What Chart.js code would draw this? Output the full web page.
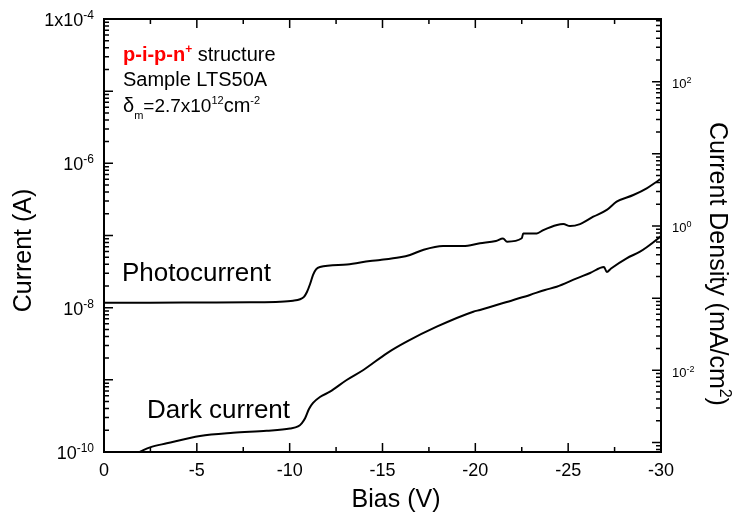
<!DOCTYPE html>
<html lang="en">
<head>
<meta charset="UTF-8">
<title>Photocurrent and dark current vs bias</title>
<style>
    html, body { margin: 0; padding: 0; background: #fff; }
    #wrap { width: 734px; height: 516px; position: relative; }
</style>
</head>
<body>
<div id="wrap"><canvas id="ivChart"></canvas></div>

<script src="https://cdn.jsdelivr.net/npm/chart.js"></script>
<script>
// values: bias (V) and current (A)
const photoBias = [0, -2.48, -5.17, -7.86, -9.48, -10.18, -10.56, -10.77, -10.93, -11.10,
    -11.26, -11.42, -11.63, -13.09, -14.33, -14.87, -15.94, -16.48, -17.18, -18.26,
    -19.34, -20.25, -21.11, -21.49, -21.71, -22.50, -22.58, -23.31, -23.66, -24.40,
    -24.74, -25.10, -25.64, -26.35, -27.08, -27.61, -28.51, -29.23, -29.86, -30];
const photoCurrent = [1.17e-8, 1.17e-8, 1.18e-8, 1.19e-8, 1.21e-8, 1.25e-8, 1.31e-8, 1.41e-8, 1.65e-8, 2.13e-8,
    2.84e-8, 3.38e-8, 3.66e-8, 3.97e-8, 4.43e-8, 4.58e-8, 4.99e-8, 5.37e-8, 6.30e-8, 7.15e-8,
    7.15e-8, 7.80e-8, 8.39e-8, 9.09e-8, 8.21e-8, 9.15e-8, 1.07e-7, 1.07e-7, 1.19e-7, 1.40e-7,
    1.44e-7, 1.35e-7, 1.44e-7, 1.82e-7, 2.26e-7, 2.94e-7, 3.64e-7, 4.51e-7, 5.78e-7, 6.07e-7];

const darkBias = [-1.94, -2.48, -3.38, -5.17, -6.95, -8.76, -10.02, -10.45, -10.66, -10.83,
    -11.04, -11.26, -11.63, -12.17, -13.07, -13.97, -15.23, -16.30, -17.92, -19.89,
    -20.25, -22.05, -22.94, -23.75, -24.38, -25.46, -26.18, -26.93, -27.08, -27.31,
    -28.15, -28.87, -29.23, -29.86, -30];
const darkCurrent = [1.01e-10, 1.16e-10, 1.32e-10, 1.67e-10, 1.85e-10, 1.97e-10, 2.12e-10, 2.26e-10, 2.52e-10, 2.93e-10,
    3.94e-10, 4.78e-10, 5.78e-10, 6.85e-10, 9.95e-10, 1.37e-9, 2.33e-9, 3.38e-9, 5.45e-9, 8.79e-9,
    9.29e-9, 1.28e-8, 1.50e-8, 1.76e-8, 1.95e-8, 2.55e-8, 3.02e-8, 3.66e-8, 3.12e-8, 3.49e-8,
    4.83e-8, 5.97e-8, 6.87e-8, 9.15e-8, 9.84e-8];

// axes
const biasRange = [-30, 0];
const biasTicks = [0, -5, -10, -15, -20, -25, -30];
const currentRange = [1e-10, 1e-4];
const currentLabelExp = [-10, -8, -6, -4];
const densityLabelExp = [-2, 0, 2];
// A -> mA/cm2 (device area)
const densityFactor = Math.pow(10, 6.868);

const FONT = '"Liberation Sans", Arial, Helvetica, sans-serif';

function pts(xs, ys) {
    return xs.map((x, i) => ({ x: x, y: ys[i] }));
}

// draws a run of text pieces: {t, s (size), r (rise), b (bold), c (colour)}
function drawParts(ctx, parts, x, y, align) {
    let total = 0;
    parts.forEach(p => {
        ctx.font = (p.b ? 'bold ' : '') + p.s + 'px ' + FONT;
        p.w = ctx.measureText(p.t).width;
        total += p.w;
    });
    let cx = x;
    if (align === 'right') cx = x - total;
    if (align === 'center') cx = x - total / 2;
    ctx.textAlign = 'left';
    ctx.textBaseline = 'alphabetic';
    parts.forEach(p => {
        ctx.font = (p.b ? 'bold ' : '') + p.s + 'px ' + FONT;
        ctx.fillStyle = p.c || '#000';
        ctx.fillText(p.t, cx, y - (p.r || 0));
        cx += p.w;
    });
}

const axesPlugin = {
    id: 'originAxes',
    afterDatasetsDraw(chart) {
        const ctx = chart.ctx;
        const a = chart.chartArea;
        const xs = chart.scales.x, ys = chart.scales.y, y2 = chart.scales.y2;
        ctx.save();
        ctx.strokeStyle = '#000';
        ctx.lineWidth = 1.5;

        // bias ticks, bottom and top, pointing inwards
        ctx.beginPath();
        for (let v = 0; v >= -30; v -= 2.5) {
            const px = xs.getPixelForValue(v);
            const len = (v % 5 === 0) ? 9 : 5;
            ctx.moveTo(px, a.bottom); ctx.lineTo(px, a.bottom - len);
            ctx.moveTo(px, a.top); ctx.lineTo(px, a.top + len);
        }
        // log ticks left (current) and right (density)
        const logTicks = (scale, xEdge, dir) => {
            const lo = Math.floor(Math.log10(scale.min)), hi = Math.ceil(Math.log10(scale.max));
            for (let e = lo; e <= hi; e++) {
                for (let k = 1; k <= 9; k++) {
                    const v = k * Math.pow(10, e);
                    if (v < scale.min * 0.999 || v > scale.max * 1.001) continue;
                    const py = scale.getPixelForValue(v);
                    const len = k === 1 ? 9 : 5;
                    ctx.moveTo(xEdge, py); ctx.lineTo(xEdge + dir * len, py);
                }
            }
        };
        logTicks(ys, a.left, 1);
        logTicks(y2, a.right, -1);
        ctx.stroke();

        // frame
        ctx.lineWidth = 2;
        ctx.strokeRect(a.left, a.top, a.right - a.left, a.bottom - a.top);

        // bias tick labels
        biasTicks.forEach(v => {
            drawParts(ctx, [{ t: String(v), s: 18 }], xs.getPixelForValue(v), a.bottom + 24, 'center');
        });
        // current tick labels
        currentLabelExp.forEach(e => {
            const py = ys.getPixelForValue(Math.pow(10, e));
            drawParts(ctx, [
                { t: e === -4 ? '1x10' : '10', s: 18 },
                { t: String(e), s: 12, r: 7 }
            ], 94, py + 7, 'right');
        });
        // density tick labels
        densityLabelExp.forEach(e => {
            const py = y2.getPixelForValue(Math.pow(10, e));
            drawParts(ctx, [
                { t: '10', s: 13 },
                { t: String(e), s: 9, r: 5 }
            ], 672, py + 6.5, 'left');
        });

        // axis titles
        drawParts(ctx, [{ t: 'Bias (V)', s: 25 }], 396, 507, 'center');

        ctx.save();
        ctx.translate(30.5, 250.5);
        ctx.rotate(-Math.PI / 2);
        drawParts(ctx, [{ t: 'Current (A)', s: 25 }], 0, 0, 'center');
        ctx.restore();

        ctx.save();
        ctx.translate(710, 122);
        ctx.rotate(Math.PI / 2);
        drawParts(ctx, [
            { t: 'Current Density (mA/cm', s: 25 },
            { t: '2', s: 16, r: 10 },
            { t: ')', s: 25 }
        ], 0, 0, 'left');
        ctx.restore();

        // annotations
        drawParts(ctx, [
            { t: 'p-i-p-n', s: 20, b: true, c: '#ff0000' },
            { t: '+', s: 12, r: 8, b: true, c: '#ff0000' },
            { t: ' structure', s: 20 }
        ], 123, 61, 'left');
        drawParts(ctx, [{ t: 'Sample LTS50A', s: 20 }], 123, 86, 'left');
        drawParts(ctx, [
            { t: '\u03b4', s: 20 },
            { t: 'm', s: 11, r: -7 },
            { t: '=2.7x10', s: 19 },
            { t: '12', s: 11, r: 8 },
            { t: 'cm', s: 20 },
            { t: '-2', s: 11, r: 8 }
        ], 123, 112, 'left');

        drawParts(ctx, [{ t: 'Photocurrent', s: 26 }], 122, 281, 'left');
        drawParts(ctx, [{ t: 'Dark current', s: 26 }], 147, 418, 'left');

        ctx.restore();
    }
};

const ctx = document.getElementById('ivChart').getContext('2d');
new Chart(ctx, {
    type: 'scatter',
    data: {
        datasets: [
            {
                label: 'Photocurrent',
                data: pts(photoBias, photoCurrent),
                showLine: true,
                borderColor: '#000',
                borderWidth: 2,
                pointRadius: 0,
                cubicInterpolationMode: 'monotone'
            },
            {
                label: 'Dark current',
                data: pts(darkBias, darkCurrent),
                showLine: true,
                borderColor: '#000',
                borderWidth: 2,
                pointRadius: 0,
                cubicInterpolationMode: 'monotone'
            }
        ]
    },
    options: {
        responsive: true,
        maintainAspectRatio: false,
        animation: false,
        layout: { padding: { left: 104, right: 73, top: 19, bottom: 64 } },
        plugins: {
            legend: { display: false },
            tooltip: { enabled: false }
        },
        scales: {
            x: { type: 'linear', min: biasRange[0], max: biasRange[1], reverse: true, display: false },
            y: { type: 'logarithmic', min: currentRange[0], max: currentRange[1], display: false },
            y2: {
                type: 'logarithmic',
                position: 'right',
                min: currentRange[0] * densityFactor,
                max: currentRange[1] * densityFactor,
                display: false
            }
        }
    },
    plugins: [axesPlugin]
});
</script>
</body>
</html>
